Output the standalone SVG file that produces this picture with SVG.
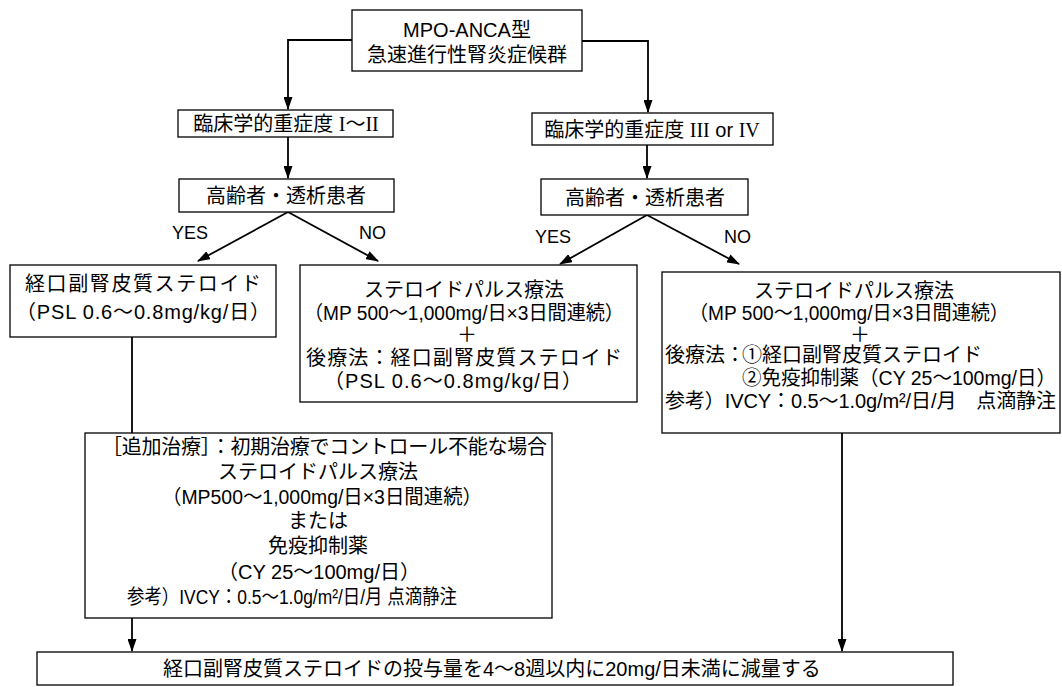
<svg xmlns="http://www.w3.org/2000/svg" width="1062" height="687" viewBox="0 0 1062 687">
<defs>
<style>
text{font-family:"Liberation Sans","Noto Sans CJK JP",sans-serif;font-size:20px;fill:#000}
.c{text-anchor:middle}
.lbl{font-size:18px}
.serif{font-family:"Liberation Serif","Noto Sans CJK JP",serif}
rect{fill:#fff;stroke:#000;stroke-width:1.3}
.conn{fill:none;stroke:#000;stroke-width:1.8}
</style>
<marker id="ah" markerUnits="userSpaceOnUse" markerWidth="13" markerHeight="9" refX="12" refY="4.5" orient="auto">
<path d="M0,0 L13,4.5 L0,9 Z" fill="#000"/>
</marker>
</defs>
<rect x="0" y="0" width="1062" height="687" style="fill:#fff;stroke:none"/>

<g id="connectors">
<polyline class="conn" points="352,40 288,40 288,109" marker-end="url(#ah)"/>
<polyline class="conn" points="582,41 648,41 648,112" marker-end="url(#ah)"/>
<line class="conn" x1="288" y1="137" x2="288" y2="178" marker-end="url(#ah)"/>
<line class="conn" x1="647" y1="145" x2="647" y2="178" marker-end="url(#ah)"/>
<line class="conn" x1="288" y1="212" x2="198" y2="261" marker-end="url(#ah)"/>
<line class="conn" x1="288" y1="212" x2="378" y2="261" marker-end="url(#ah)"/>
<line class="conn" x1="647" y1="215" x2="560" y2="264" marker-end="url(#ah)"/>
<line class="conn" x1="647" y1="215" x2="739" y2="264" marker-end="url(#ah)"/>
<line class="conn" x1="132" y1="337" x2="132" y2="433"/>
<line class="conn" x1="132" y1="618" x2="132" y2="651" marker-end="url(#ah)"/>
<line class="conn" x1="842" y1="433" x2="842" y2="651" marker-end="url(#ah)"/>
<text class="lbl" x="172" y="239">YES</text>
<text class="lbl" x="359" y="239">NO</text>
<text class="lbl" x="535" y="243">YES</text>
<text class="lbl" x="724" y="243">NO</text>
</g>

<g id="n-top">
<rect x="352" y="10" width="230" height="61"/>
<text class="c" x="467" y="37">MPO-ANCA型</text>
<text class="c" x="467" y="62">急速進行性腎炎症候群</text>
</g>

<g id="n-sev12">
<rect x="178" y="110" width="215" height="27"/>
<text class="c" x="286" y="131">臨床学的重症度 <tspan class="serif">I</tspan>〜<tspan class="serif">II</tspan></text>
</g>

<g id="n-sev34">
<rect x="532" y="113" width="241" height="32"/>
<text class="c" x="652" y="137">臨床学的重症度 <tspan class="serif">III</tspan> or <tspan class="serif">IV</tspan></text>
</g>

<g id="n-eld-l">
<rect x="179" y="179" width="215" height="33"/>
<text class="c" x="286" y="203">高齢者・透析患者</text>
</g>

<g id="n-eld-r">
<rect x="541" y="179" width="207" height="36"/>
<text class="c" x="645" y="205">高齢者・透析患者</text>
</g>

<g id="n-oral">
<rect x="10" y="265" width="266" height="72"/>
<text class="c" x="143" y="291" textLength="236">経口副腎皮質ステロイド</text>
<text class="c" x="143" y="319" textLength="254">（PSL 0.6〜0.8mg/kg/日）</text>
</g>

<g id="n-pulse-mid">
<rect x="300" y="265" width="337" height="137"/>
<text class="c" x="464" y="297">ステロイドパルス療法</text>
<text class="c" x="464" y="320" textLength="320" lengthAdjust="spacingAndGlyphs">（MP 500〜1,000mg/日×3日間連続）</text>
<text class="c" x="467" y="342">＋</text>
<text class="c" x="464" y="365" textLength="316">後療法：経口副腎皮質ステロイド</text>
<text class="c" x="453" y="388" textLength="258">（PSL 0.6〜0.8mg/kg/日）</text>
</g>

<g id="n-pulse-right">
<rect x="662" y="272" width="398" height="161"/>
<text class="c" x="854" y="298">ステロイドパルス療法</text>
<text class="c" x="849" y="320" textLength="320" lengthAdjust="spacingAndGlyphs">（MP 500〜1,000mg/日×3日間連続）</text>
<text class="c" x="860" y="342">＋</text>
<text x="665" y="362">後療法：<tspan x="742">①経口副腎皮質ステロイド</tspan></text>
<text x="742" y="385" textLength="314" lengthAdjust="spacingAndGlyphs">②免疫抑制薬（CY 25〜100mg/日）</text>
<text x="665" y="408" textLength="391">参考）IVCY：0.5〜1.0g/m²/日/月　点滴静注</text>
</g>

<g id="n-add">
<rect x="85" y="433" width="467" height="185"/>
<text x="102" y="454" textLength="445">［追加治療］：初期治療でコントロール不能な場合</text>
<text class="c" x="318" y="479">ステロイドパルス療法</text>
<text class="c" x="322" y="504" textLength="320" lengthAdjust="spacingAndGlyphs">（MP500〜1,000mg/日×3日間連続）</text>
<text class="c" x="318" y="528">または</text>
<text class="c" x="318" y="553">免疫抑制薬</text>
<text class="c" x="319" y="579">（CY 25〜100mg/日）</text>
<text x="127" y="604" font-size="19" textLength="330" lengthAdjust="spacingAndGlyphs">参考）IVCY：0.5〜1.0g/m²/日/月 点滴静注</text>
</g>

<g id="n-final">
<rect x="37" y="652" width="916" height="33"/>
<text x="163" y="676">経口副腎皮質ステロイドの投与量を4〜8週以内に20mg/日未満に減量する</text>
</g>
</svg>
